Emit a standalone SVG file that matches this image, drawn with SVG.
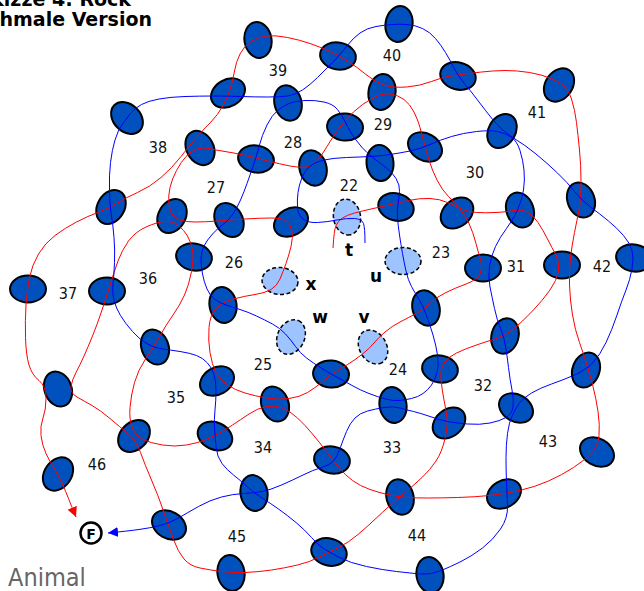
<svg xmlns="http://www.w3.org/2000/svg" width="644" height="591" viewBox="0 0 644 591">
<style>
.n ellipse{fill:#0050be;stroke:#000;stroke-width:2}
.l ellipse{fill:#9ec4ff;stroke:#000;stroke-width:1.5;stroke-dasharray:4 2.5}
.red{fill:none;stroke:#f00;stroke-width:1}
.blue{fill:none;stroke:#00f;stroke-width:1}
.lb{font-family:"DejaVu Sans Condensed","DejaVu Sans",sans-serif;font-stretch:condensed;font-size:16px;fill:#111;text-anchor:middle}
.bl{font-family:"DejaVu Sans",sans-serif;font-weight:bold;font-size:17px;fill:#000;text-anchor:middle}
.ti{font-family:"DejaVu Sans",sans-serif;font-weight:bold;font-size:19px;fill:#000;text-anchor:end}
</style>
<defs>
<marker id="ahR" viewBox="0 0 10 10" refX="10" refY="5" markerWidth="10" markerHeight="10" markerUnits="userSpaceOnUse" orient="auto"><path d="M0,0L10,5L0,10z" fill="#f00"/></marker>
<marker id="ahB" viewBox="0 0 10 10" refX="10" refY="5" markerWidth="10" markerHeight="10" markerUnits="userSpaceOnUse" orient="auto"><path d="M0,0L10,5L0,10z" fill="#00f"/></marker>
</defs>
<rect width="644" height="591" fill="#fff"/>
<g id="nodes">
<g id="n1" class="n" transform="translate(258 40) rotate(80)"><ellipse rx="18" ry="13.5"/></g>
<g id="n2" class="n" transform="translate(399 24) rotate(100)"><ellipse rx="18" ry="13.5"/></g>
<g id="n3" class="n" transform="translate(338 56) rotate(10)"><ellipse rx="18" ry="13.5"/></g>
<g id="n4" class="n" transform="translate(458 76) rotate(15)"><ellipse rx="18" ry="13.5"/></g>
<g id="n5" class="n" transform="translate(559 85) rotate(-55)"><ellipse rx="18" ry="13.5"/></g>
<g id="n6" class="n" transform="translate(127 118) rotate(45)"><ellipse rx="18" ry="13.5"/></g>
<g id="n7" class="n" transform="translate(228 93) rotate(-30)"><ellipse rx="18" ry="13.5"/></g>
<g id="n8" class="n" transform="translate(288 103) rotate(75)"><ellipse rx="18" ry="13.5"/></g>
<g id="n9" class="n" transform="translate(382 92) rotate(100)"><ellipse rx="18" ry="13.5"/></g>
<g id="n10" class="n" transform="translate(345 127) rotate(5)"><ellipse rx="18" ry="13.5"/></g>
<g id="n11" class="n" transform="translate(502 131) rotate(-60)"><ellipse rx="18" ry="13.5"/></g>
<g id="n12" class="n" transform="translate(200 148) rotate(62)"><ellipse rx="18" ry="13.5"/></g>
<g id="n13" class="n" transform="translate(256 159) rotate(10)"><ellipse rx="18" ry="13.5"/></g>
<g id="n14" class="n" transform="translate(313 168) rotate(75)"><ellipse rx="18" ry="13.5"/></g>
<g id="n15" class="n" transform="translate(380 163) rotate(85)"><ellipse rx="18" ry="13.5"/></g>
<g id="n16" class="n" transform="translate(425 147) rotate(30)"><ellipse rx="18" ry="13.5"/></g>
<g id="n17" class="n" transform="translate(396 207) rotate(15)"><ellipse rx="18" ry="13.5"/></g>
<g id="n18" class="n" transform="translate(457 213) rotate(-40)"><ellipse rx="18" ry="13.5"/></g>
<g id="n19" class="n" transform="translate(520 210) rotate(70)"><ellipse rx="18" ry="13.5"/></g>
<g id="n20" class="n" transform="translate(581 200) rotate(70)"><ellipse rx="18" ry="13.5"/></g>
<g id="n21" class="n" transform="translate(634 258) rotate(10)"><ellipse rx="18" ry="13.5"/></g>
<g id="n22" class="n" transform="translate(28 289)"><ellipse rx="18" ry="13.5"/></g>
<g id="n23" class="n" transform="translate(107 291)"><ellipse rx="18" ry="13.5"/></g>
<g id="n24" class="n" transform="translate(111 207) rotate(-60)"><ellipse rx="18" ry="13.5"/></g>
<g id="n25" class="n" transform="translate(172 216) rotate(-60)"><ellipse rx="18" ry="13.5"/></g>
<g id="n26" class="n" transform="translate(229 220) rotate(60)"><ellipse rx="18" ry="13.5"/></g>
<g id="n27" class="n" transform="translate(291 222) rotate(-30)"><ellipse rx="18" ry="13.5"/></g>
<g id="n28" class="n" transform="translate(194 257) rotate(10)"><ellipse rx="18" ry="13.5"/></g>
<g id="n29" class="n" transform="translate(223 305) rotate(80)"><ellipse rx="18" ry="13.5"/></g>
<g id="n30" class="n" transform="translate(155 347) rotate(70)"><ellipse rx="18" ry="13.5"/></g>
<g id="n31" class="n" transform="translate(217 381) rotate(-30)"><ellipse rx="18" ry="13.5"/></g>
<g id="n32" class="n" transform="translate(275 404) rotate(70)"><ellipse rx="18" ry="13.5"/></g>
<g id="n33" class="n" transform="translate(215 436) rotate(25)"><ellipse rx="18" ry="13.5"/></g>
<g id="n34" class="n" transform="translate(134 436) rotate(-45)"><ellipse rx="18" ry="13.5"/></g>
<g id="n35" class="n" transform="translate(58 389) rotate(70)"><ellipse rx="18" ry="13.5"/></g>
<g id="n36" class="n" transform="translate(58 474) rotate(-55)"><ellipse rx="18" ry="13.5"/></g>
<g id="n37" class="n" transform="translate(169 525) rotate(30)"><ellipse rx="18" ry="13.5"/></g>
<g id="n38" class="n" transform="translate(254 493) rotate(80)"><ellipse rx="18" ry="13.5"/></g>
<g id="n40" class="n" transform="translate(332 460) rotate(10)"><ellipse rx="18" ry="13.5"/></g>
<g id="n41" class="n" transform="translate(329 552) rotate(15)"><ellipse rx="18" ry="13.5"/></g>
<g id="n42" class="n" transform="translate(231 573) rotate(80)"><ellipse rx="18" ry="13.5"/></g>
<g id="n43" class="n" transform="translate(400 497) rotate(75)"><ellipse rx="18" ry="13.5"/></g>
<g id="n44" class="n" transform="translate(430 575) rotate(80)"><ellipse rx="18" ry="13.5"/></g>
<g id="n45" class="n" transform="translate(504 494) rotate(-30)"><ellipse rx="18" ry="13.5"/></g>
<g id="n46" class="n" transform="translate(597 452) rotate(30)"><ellipse rx="18" ry="13.5"/></g>
<g id="n47" class="n" transform="translate(449 423) rotate(-40)"><ellipse rx="18" ry="13.5"/></g>
<g id="n48" class="n" transform="translate(516 408) rotate(30)"><ellipse rx="18" ry="13.5"/></g>
<g id="n49" class="n" transform="translate(393 405) rotate(80)"><ellipse rx="18" ry="13.5"/></g>
<g id="n50" class="n" transform="translate(331 374) rotate(5)"><ellipse rx="18" ry="13.5"/></g>
<g id="n51" class="n" transform="translate(440 369) rotate(10)"><ellipse rx="18" ry="13.5"/></g>
<g id="n52" class="n" transform="translate(505 336) rotate(105)"><ellipse rx="18" ry="13.5"/></g>
<g id="n53" class="n" transform="translate(586 370) rotate(110)"><ellipse rx="18" ry="13.5"/></g>
<g id="n54" class="n" transform="translate(426 308) rotate(75)"><ellipse rx="18" ry="13.5"/></g>
<g id="n55" class="n" transform="translate(483 268)"><ellipse rx="18" ry="13.5"/></g>
<g id="n56" class="n" transform="translate(562 265)"><ellipse rx="18" ry="13.5"/></g>
<g id="t" class="l"><ellipse rx="18" ry="13.5" transform="translate(347 217) rotate(80)"/><text class="bl" x="349" y="256">t</text></g>
<g id="u" class="l"><ellipse rx="18" ry="13.5" transform="translate(403 261)"/><text class="bl" x="376" y="282">u</text></g>
<g id="x" class="l"><ellipse rx="18" ry="13.5" transform="translate(280 281) rotate(5)"/><text class="bl" x="311" y="290">x</text></g>
<g id="w" class="l"><ellipse rx="18" ry="13.5" transform="translate(291 337) rotate(-65)"/><text class="bl" x="320" y="323">w</text></g>
<g id="v" class="l"><ellipse rx="18" ry="13.5" transform="translate(373 347) rotate(60)"/><text class="bl" x="364" y="323">v</text></g>
</g>
<g id="connectors">
<path class="red" d="M333,248 Q334,230 336,225.5 Q338,221 342.5,218 Q347,215 354.5,213 Q362,211 371,209 Q380,207 388.5,205 Q397,203 408.5,200.5 Q420,198 430,198.5 Q440,199 447.5,202.5 Q455,206 461.5,209 Q468,212 476.5,212.5 Q485,213 496,212.5 Q507,212 514,210.5 Q521,209 527,212 Q533,215 538,222.5 Q543,230 547.5,239 Q552,248 556,255 Q560,262 558.5,271 Q557,280 550,290 Q543,300 532.5,311 Q522,322 513.5,329 Q505,336 495,339 Q485,342 475,345.5 Q465,349 456.5,353 Q448,357 444,363 Q440,369 441,379.5 Q442,390 444,400 Q446,410 447,417.5 Q448,425 445,438.5 Q442,452 436,461 Q430,470 422.5,477 Q415,484 407.5,490.5 Q400,497 394,502 Q388,507 378,516.5 Q368,526 358,534.5 Q348,543 338.5,547.5 Q329,552 319.5,557 Q310,562 297.5,565 Q285,568 271.5,570 Q258,572 245,572.5 Q232,573 221,571.5 Q210,570 200,568 Q190,566 184,559 Q178,552 173.5,539.5 Q169,527 163.5,511 Q158,495 151.5,480 Q145,465 140.5,452.5 Q136,440 128,433.5 Q120,427 110,418.5 Q100,410 92,405.5 Q84,401 77,397 Q70,393 71,386.5 Q72,380 76,372.5 Q80,365 84,356 Q88,347 92.5,336 Q97,325 102,310 Q107,295 110.5,283.5 Q114,272 118,261 Q122,250 128.5,241 Q135,232 146,227 Q157,222 165,221.5 Q173,221 178.5,225.5 Q184,230 187.5,236 Q191,242 192.5,250 Q194,258 191.5,271.5"/>
<path class="red" d="M46,398 Q46,386 39,380.5 Q32,375 29,365 Q26,355 25.5,337.5 Q25,320 26,305 Q27,290 29.5,277.5 Q32,265 38.5,254 Q45,243 55,235.5 Q65,228 76.5,222 Q88,216 99,212 Q110,208 117.5,203 Q125,198 137.5,192.5 Q150,187 161,177.5 Q172,168 181,156.5 Q190,145 196,138 Q202,131 210,123 Q218,115 223,105.5 Q228,96 230.5,88 Q233,80 234.5,71 Q236,62 240,54 Q244,46 251,41.5 Q258,37 266.5,36 Q275,35 287.5,37.5 Q300,40 310,43.5 Q320,47 329,51 Q338,55 347.5,61 Q357,67 366,74.5 Q375,82 384,85 Q393,88 406.5,87 Q420,86 431.5,81.5 Q443,77 450.5,76 Q458,75 469,73.5 Q480,72 492.5,71 Q505,70 517.5,71 Q530,72 541,75 Q552,78 560,83 Q568,88 571.5,99 Q575,110 576.5,122.5 Q578,135 579.5,150 Q581,165 581,182.5 Q581,200 579,210 Q577,220 574.5,232.5 Q572,245 570.5,257.5 Q569,270 569.5,285 Q570,300 572.5,315 Q575,330 579.5,342.5 Q584,355 587,365 Q590,375 593,386.5 Q596,398 598,411.5 Q600,425 599,435.5 Q598,446 591.5,453 Q585,460 573.5,467.5 Q562,475 548.5,481 Q535,487 519.5,490.5 Q504,494 489.5,495.5 Q475,497 457.5,497.5 Q440,498 427.5,498 Q415,498 407.5,497.5 Q400,497 390,495 Q380,493 370,489.5 Q360,486 352.5,480.5 Q345,475 339,467.5 Q333,460 326.5,451.5 Q320,443 312.5,434 Q305,425 297.5,418 Q290,411 282.5,408 Q275,405 266.5,406.5 Q258,408 249,414 Q240,420 232.5,425 Q225,430 219.5,433 Q214,436 206,439.5 Q198,443 186.5,445 Q175,447 162.5,445 Q150,443 143,439.5 Q136,436 132.5,428 Q129,420 130,407.5 Q131,395 134.5,382.5 Q138,370 145.5,359 Q153,348 159.5,336.5 Q166,325 173,315 Q180,305 184.5,295 Q189,285 191.5,271.5"/>
<path class="red" marker-end="url(#ahR)" d="M46,398 Q46,410 43,418 Q40,426 41,435.5 Q42,445 46,453.5 Q50,462 54,468 Q58,474 62,483 Q66,492 68.5,498.5 Q71,505 76,517"/>
<path class="red" d="M172.5,215 Q170,212 169,204 Q168,196 170,187.5 Q172,179 176.5,170.5 Q181,162 186,156.5 Q191,151 197,149 Q203,147 209,148.5 Q215,150 225,151.5 Q235,153 245.5,155.5 Q256,158 268,161 Q280,164 290,166 Q300,168 306.5,167 Q313,166 317.5,160.5 Q322,155 327,146.5 Q332,138 338.5,129 Q345,120 353.5,112 Q362,104 372,98.5 Q382,93 390,94 Q398,95 404,99.5 Q410,104 414,112 Q418,120 420,127.5 Q422,135 424,142.5 Q426,150 429,160 Q432,170 437,180 Q442,190 448.5,196.5 Q455,203 460,209 Q465,215 469,223.5 Q473,232 476,243.5 Q479,255 481,261.5 Q483,268 480,274 Q477,280 466,284 Q455,288 445,293 Q435,298 430.5,303 Q426,308 417,313 Q408,318 400,322 Q392,326 385,332 Q378,338 374,343 Q370,348 362.5,354 Q355,360 347.5,364.5 Q340,369 334.5,372.5 Q329,376 322,382 Q315,388 307.5,392.5 Q300,397 289,398.5 Q278,400 266.5,398 Q255,396 245,393 Q235,390 227.5,385 Q220,380 216,372.5 Q212,365 210,352.5 Q208,340 209,327.5 Q210,315 216,308.5 Q222,302 233.5,299 Q245,296 255,294.5 Q265,293 271,289.5 Q277,286 280,279 Q283,272 286,263.5 Q289,255 291,246.5 Q293,238 292,231.5 Q291,225 287,221.5 Q283,218 271.5,218 Q260,218 245,219 Q230,220 217.5,221 Q205,222 195,222 Q185,222 180,220 Q175,218 172.5,215 Z"/>
<path class="blue" marker-end="url(#ahB)" d="M365,243 Q365,228 363.5,223.5 Q362,219 354.5,218.5 Q347,218 337,220 Q327,222 317.5,222.5 Q308,223 303,219 Q298,215 297.5,207.5 Q297,200 298,192.5 Q299,185 302,177.5 Q305,170 310,166 Q315,162 324,160 Q333,158 346.5,157.5 Q360,157 370,156.5 Q380,156 390,154.5 Q400,153 410,151 Q420,149 430,144.5 Q440,140 451.5,136.5 Q463,133 476.5,131.5 Q490,130 497.5,131.5 Q505,133 511,137 Q517,141 520,150.5 Q523,160 524,170 Q525,180 523.5,190 Q522,200 517.5,210 Q513,220 506.5,228.5 Q500,237 495.5,246.5 Q491,256 489.5,266.5 Q488,277 490,287 Q492,297 494.5,308.5 Q497,320 500.5,328.5 Q504,337 505.5,346 Q507,355 508.5,367.5 Q510,380 512,390 Q514,400 513,407 Q512,414 506,417.5 Q500,421 490,423 Q480,425 467.5,424 Q455,423 447.5,421.5 Q440,420 430,416.5 Q420,413 413.5,411.5 Q407,410 400,408 Q393,406 384,407.5 Q375,409 367.5,411 Q360,413 355,418 Q350,423 346.5,431.5 Q343,440 340,448.5 Q337,457 333.5,461 Q330,465 321.5,467.5 Q313,470 303,475 Q293,480 281.5,485 Q270,490 262,491.5 Q254,493 243.5,493.5 Q233,494 221.5,497 Q210,500 198.5,506.5 Q187,513 178.5,518 Q170,523 160,525.5 Q150,528 139,529.5 Q128,531 108,533"/>
<path class="blue" d="M223.5,224 Q229,220 233,214 Q237,208 240.5,200 Q244,192 247,183.5 Q250,175 253,166.5 Q256,158 259,146.5 Q262,135 267,125 Q272,115 277.5,110.5 Q283,106 289,103.5 Q295,101 305,100.5 Q315,100 324,102 Q333,104 337.5,109.5 Q342,115 346,123.5 Q350,132 356,140 Q362,148 367,152.5 Q372,157 376,160 Q380,163 386,167.5 Q392,172 396,178.5 Q400,185 399.5,191.5 Q399,198 398,204 Q397,210 397.5,217.5 Q398,225 399.5,235 Q401,245 402.5,253.5 Q404,262 406,271 Q408,280 411.5,286.5 Q415,293 419,299.5 Q423,306 426.5,315.5 Q430,325 433,335 Q436,345 437.5,355 Q439,365 437,372.5 Q435,380 431.5,385 Q428,390 423,393.5 Q418,397 411.5,398.5 Q405,400 399,400.5 Q393,401 385.5,399 Q378,397 369,393.5 Q360,390 353,386 Q346,382 338.5,378 Q331,374 322,368.5 Q313,363 306.5,358 Q300,353 295.5,346.5 Q291,340 285.5,334 Q280,328 272.5,324 Q265,320 256.5,316 Q248,312 240,309.5 Q232,307 226,305 Q220,303 215,299.5 Q210,296 207,289 Q204,282 202.5,274 Q201,266 201,259 Q201,252 204,246 Q207,240 212.5,234 Q218,228 223.5,224 Z"/>
<path class="blue" d="M214.5,428 Q215,436 216,446.5 Q217,457 222,463.5 Q227,470 233.5,475 Q240,480 247,486.5 Q254,493 262,498 Q270,503 278.5,509 Q287,515 296,522.5 Q305,530 311.5,537.5 Q318,545 323.5,548.5 Q329,552 339.5,557.5 Q350,563 366.5,566.5 Q383,570 396.5,571.5 Q410,573 420,574 Q430,575 440,571 Q450,567 461,561.5 Q472,556 482.5,548 Q493,540 500.5,529 Q508,518 507.5,506 Q507,494 506.5,482 Q506,470 506,457.5 Q506,445 507.5,433.5 Q509,422 512.5,415 Q516,408 519.5,403 Q523,398 531.5,393 Q540,388 551.5,384 Q563,380 574.5,375 Q586,370 593,362.5 Q600,355 606,342.5 Q612,330 617,315 Q622,300 626,290 Q630,280 632,269 Q634,258 632,250.5 Q630,243 623.5,235.5 Q617,228 608.5,221 Q600,214 590.5,207 Q581,200 574.5,191.5 Q568,183 557.5,173 Q547,163 536,154 Q525,145 513.5,138 Q502,131 493.5,120.5 Q485,110 477.5,100 Q470,90 464,83 Q458,76 454,68 Q450,60 445.5,52.5 Q441,45 435.5,38.5 Q430,32 422.5,28.5 Q415,25 407,24.5 Q399,24 392,24.5 Q385,25 376,26.5 Q367,28 360,33 Q353,38 346.5,46.5 Q340,55 332.5,62.5 Q325,70 317.5,77.5 Q310,85 302.5,90 Q295,95 287.5,96 Q280,97 267.5,97 Q255,97 241.5,96.5 Q228,96 214,96 Q200,96 185,96.5 Q170,97 159,99 Q148,101 141.5,104.5 Q135,108 131,113 Q127,118 122.5,124 Q118,130 115,140 Q112,150 110.5,162.5 Q109,175 109.5,191 Q110,207 111.5,216 Q113,225 114,237.5 Q115,250 114.5,262.5 Q114,275 113,284 Q112,293 114,300.5 Q116,308 120.5,315.5 Q125,323 132.5,331.5 Q140,340 147.5,344 Q155,348 162.5,349 Q170,350 180,351.5 Q190,353 196.5,355.5 Q203,358 207.5,363 Q212,368 214,374.5 Q216,381 216,390.5 Q216,400 215,410 Q214,420 214.5,428 Z"/>
</g>
<g id="labels" class="lb">
<text x="392" y="61">40</text><text x="278" y="76">39</text><text x="537" y="118">41</text><text x="158" y="153">38</text>
<text x="293" y="148">28</text><text x="383" y="130">29</text><text x="475" y="178">30</text><text x="216" y="193">27</text>
<text x="349" y="191">22</text><text x="441" y="258">23</text><text x="234" y="268">26</text><text x="148" y="284">36</text>
<text x="68" y="299">37</text><text x="516" y="272">31</text><text x="602" y="272">42</text><text x="263" y="370">25</text>
<text x="398" y="375">24</text><text x="176" y="403">35</text><text x="483" y="391">32</text><text x="263" y="453">34</text>
<text x="392" y="453">33</text><text x="548" y="447">43</text><text x="97" y="470">46</text><text x="417" y="541">44</text>
<text x="237" y="542">45</text>
</g>
<g id="F"><circle cx="91" cy="533" r="10.5" fill="#fff" stroke="#000" stroke-width="2.5"/><text x="91" y="538.5" style="font-family:'DejaVu Sans',sans-serif;font-weight:bold;font-size:14px;text-anchor:middle">F</text></g>
<g id="title"><text class="ti" x="131" y="6">Skizze 4: Rock</text><text class="ti" x="152" y="26">Schmale Version</text></g>
<text x="8" y="586" style="font-family:'DejaVu Sans Condensed','DejaVu Sans',sans-serif;font-stretch:condensed;font-size:25px;fill:#666">Animal</text>
</svg>
